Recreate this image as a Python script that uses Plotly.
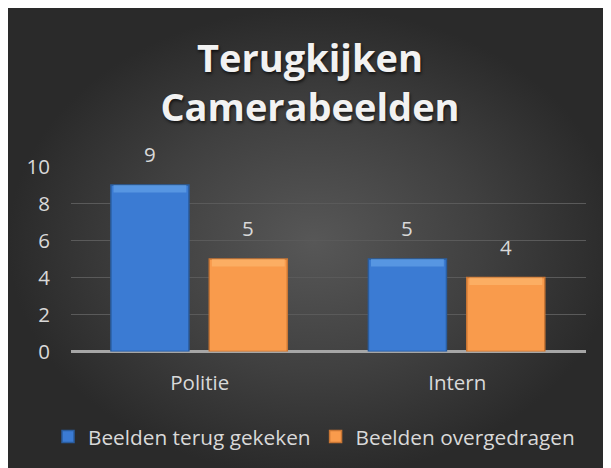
import plotly.graph_objects as go

categories = ["Politie", "Intern"]
series_names = ["Beelden terug gekeken", "Beelden overgedragen"]
terug_gekeken = [9, 5]
overgedragen = [5, 4]
y_ticks = [0, 2, 4, 6, 8, 10]

W, H = 611, 468
FONT = "Open Sans"
TXT = "#d9d9d9"
FS = 20.5

colors = {"main": ["#3b7bd3", "#f99b4c"],
          "edge": ["#2a5d9f", "#c97634"],
          "hi": ["#74b2f2", "#ffc27a"]}
offsets = [-0.345, 0.037]
bw = 0.303

fig = go.Figure()

# background with radial gradient (full-figure axes)
fig.add_trace(go.Scatter(
    x=[0, W, W, 0, 0], y=[0, 0, H, H, 0], mode="lines", fill="toself",
    line=dict(width=0, color="rgba(0,0,0,0)"),
    fillgradient=dict(type="radial", colorscale=[[0, "#575757"], [0.55, "#404040"], [1, "#2a2a2a"]]),
    hoverinfo="skip", showlegend=False, xaxis="x", yaxis="y"))

all_series = [terug_gekeken, overgedragen]
for i, (name, vals) in enumerate(zip(series_names, all_series)):
    fig.add_trace(go.Bar(
        x=categories, y=vals, name=name, offset=offsets[i], width=bw,
        marker=dict(color=colors["main"][i], line=dict(color=colors["edge"][i], width=1.5)),
        xaxis="x2", yaxis="y2", showlegend=True))
    fig.add_trace(go.Bar(
        x=categories, y=[0.4] * len(vals), base=[v - 0.4 for v in vals],
        offset=offsets[i] + 0.01, width=bw - 0.02,
        marker=dict(color=colors["hi"][i], opacity=0.5, line=dict(width=0)),
        xaxis="x2", yaxis="y2", showlegend=False, hoverinfo="skip"))

annotations = []
for i, vals in enumerate(all_series):
    for j, v in enumerate(vals):
        annotations.append(dict(
            x=j + offsets[i] + bw / 2, y=v, xref="x2", yref="y2", text=str(v),
            showarrow=False, yanchor="bottom", yshift=15,
            font=dict(family=FONT, size=FS, color=TXT)))

fig.update_layout(
    width=W, height=H, margin=dict(l=0, r=0, t=0, b=0, autoexpand=False),
    paper_bgcolor="#2b2b2b", plot_bgcolor="rgba(0,0,0,0)",
    barmode="overlay",
    title=dict(text="Terugkijken<br>Camerabeelden", x=302 / W, xanchor="center",
               y=1 - 64 / H, yanchor="top",
               font=dict(family=FONT, size=38, color="#f2f2f2", weight="bold",
                         shadow="1px 2px 3px rgba(0,0,0,0.65)")),
    xaxis=dict(domain=[0, 1], range=[0, W], visible=False, fixedrange=True),
    yaxis=dict(domain=[0, 1], range=[0, H], visible=False, fixedrange=True),
    xaxis2=dict(domain=[63 / W, 578 / W], anchor="y2", type="category",
                range=[-0.5, 1.5], showgrid=False, zeroline=False, showline=False,
                ticks="outside", ticklen=13, tickcolor="rgba(0,0,0,0)",
                tickfont=dict(family=FONT, size=FS, color=TXT)),
    yaxis2=dict(domain=[(H - 343.5) / H, (H - 158.5) / H], anchor="x2", range=[0, 10],
                tickvals=y_ticks, showgrid=True, gridcolor="#5a5a5a", gridwidth=1,
                zeroline=True, zerolinecolor="#a6a6a6", zerolinewidth=2.5,
                showline=False, ticks="outside", ticklen=16, tickcolor="rgba(0,0,0,0)",
                tickfont=dict(family=FONT, size=FS, color=TXT)),
    legend=dict(orientation="h", x=306 / W, xanchor="center", y=39 / H, yanchor="middle",
                bgcolor="rgba(0,0,0,0)", font=dict(family=FONT, size=20.8, color=TXT),
                itemwidth=30, traceorder="normal"),
    annotations=annotations,
)

fig.write_html("out.html")
